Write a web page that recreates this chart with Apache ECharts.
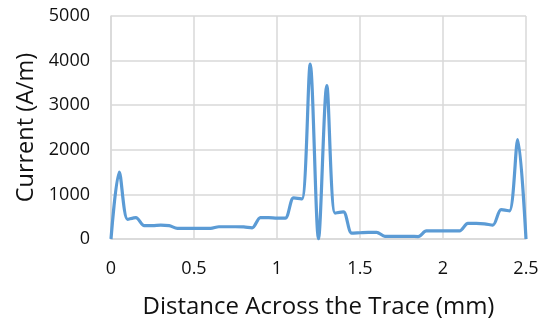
<!DOCTYPE html>
<html>
<head>
<meta charset="utf-8">
<script src="https://cdn.jsdelivr.net/npm/echarts@6/dist/echarts.min.js"></script>
<style>
  html, body { margin: 0; padding: 0; background: #fff; }
  #chart { width: 540px; height: 320px; }
</style>
</head>
<body>
<div id="chart"></div>
<script>
// distance across the trace (mm), sampled every 0.05 mm
var distance = [0, 0.05, 0.1, 0.15, 0.2, 0.25, 0.3, 0.35, 0.4, 0.45,
  0.5, 0.55, 0.6, 0.65, 0.7, 0.75, 0.8, 0.85, 0.9, 0.95,
  1.0, 1.05, 1.1, 1.15, 1.2, 1.25, 1.3, 1.35, 1.4, 1.45,
  1.5, 1.55, 1.6, 1.65, 1.7, 1.75, 1.8, 1.85, 1.9, 1.95,
  2.0, 2.05, 2.1, 2.15, 2.2, 2.25, 2.3, 2.35, 2.4, 2.45, 2.5];
// current density (A/m)
var current = [0, 1500, 440, 480, 300, 300, 310, 300, 240, 240,
  240, 240, 240, 275, 275, 275, 270, 250, 480, 480,
  470, 470, 920, 900, 3920, 0, 3440, 580, 610, 130,
  140, 150, 150, 60, 60, 60, 60, 55, 180, 180,
  180, 180, 180, 350, 350, 340, 310, 660, 630, 2230, 0];

var chart = echarts.init(document.getElementById('chart'));
var font = '"Open Sans", Lato, sans-serif';

var points = [];
for (var i = 0; i < distance.length; i++) {
  points.push([distance[i], current[i]]);
}

chart.setOption({
  animation: false,
  grid: { left: 111, right: 14, top: 16, bottom: 81, outerBoundsMode: 'none' },
  xAxis: {
    type: 'value',
    min: 0, max: 2.5, interval: 0.5,
    name: 'Distance Across the Trace (mm)',
    nameLocation: 'middle',
    nameGap: 56,
    nameTextStyle: { fontFamily: font, fontSize: 24, color: '#111' },
    axisLine: { show: true, lineStyle: { color: '#d9d9d9', width: 1.5 } },
    axisTick: { show: false },
    axisLabel: { fontFamily: font, fontSize: 18, color: '#111', margin: 21 },
    splitLine: { show: true, lineStyle: { color: '#d9d9d9', width: 1.5 } }
  },
  yAxis: {
    type: 'value',
    min: 0, max: 5000, interval: 1000,
    name: 'Current (A/m)',
    nameLocation: 'middle',
    nameGap: 70,
    nameTextStyle: { fontFamily: font, fontSize: 23.5, color: '#111' },
    axisLine: { show: true, lineStyle: { color: '#d9d9d9', width: 1.5 } },
    axisTick: { show: false },
    axisLabel: { fontFamily: font, fontSize: 18, color: '#111', margin: 21,
      formatter: function (v) { return String(v); } },
    splitLine: { show: true, lineStyle: { color: '#d9d9d9', width: 1.5 } }
  },
  series: [{
    type: 'line',
    data: points,
    smooth: 0.3,
    showSymbol: false,
    lineStyle: { color: '#5b9bd5', width: 3.2 }
  }]
});
</script>
</body>
</html>
